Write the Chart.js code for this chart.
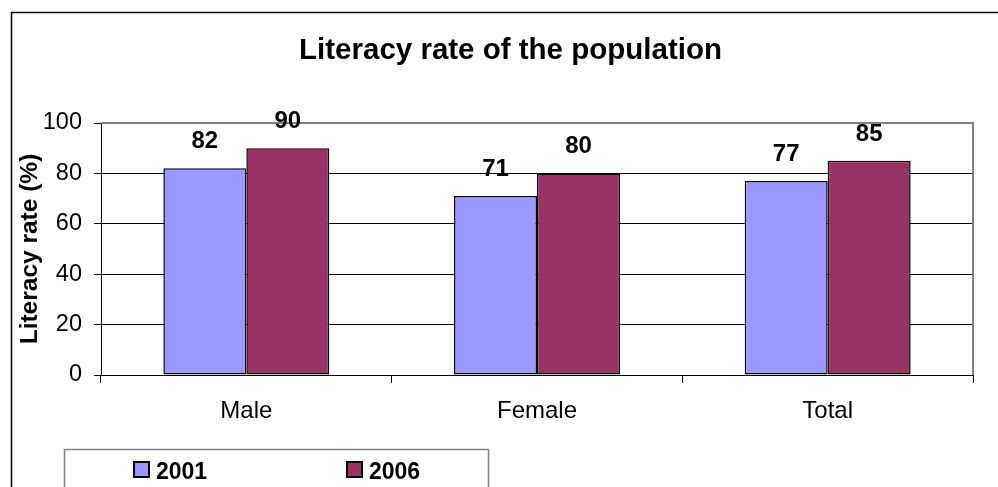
<!DOCTYPE html>
<html>
<head>
<meta charset="utf-8">
<script src="https://cdn.jsdelivr.net/npm/chart.js@4"></script>
<style>
html,body{margin:0;padding:0;background:#fff;}
#wrap{width:998px;height:487px;position:relative;}
</style>
</head>
<body>
<div id="wrap"><canvas id="c" width="998" height="487"></canvas></div>
<script>
const categories = ["Male", "Female", "Total"];
const seriesNames = ["2001", "2006"];
const values2001 = [82, 71, 77];
const values2006 = [90, 80, 85];
const yTicks = [0, 20, 40, 60, 80, 100];
const colors = ["#9999FF", "#993366"];

const FONT = "'Liberation Sans', Arial, sans-serif";

const framePlugin = {
  id: 'frame',
  afterDatasetsDraw(chart) {
    const ctx = chart.ctx, a = chart.chartArea;
    ctx.save();
    ctx.strokeStyle = '#808080';
    ctx.lineWidth = 2;
    ctx.beginPath();
    ctx.moveTo(a.left, a.top);
    ctx.lineTo(a.right, a.top);
    ctx.lineTo(a.right, a.bottom);
    ctx.stroke();
    ctx.fillStyle = '#000';
    ctx.font = "bold 24px " + FONT;
    ctx.textAlign = 'center';
    ctx.textBaseline = 'alphabetic';
    chart.data.datasets.forEach((ds, i) => {
      const meta = chart.getDatasetMeta(i);
      meta.data.forEach((bar, j) => {
        ctx.fillText(String(ds.data[j]), bar.x, bar.y - 20);
      });
    });
    ctx.restore();
  },
  afterDraw(chart) {
    const ctx = chart.ctx;
    ctx.save();
    ctx.strokeStyle = '#000';
    ctx.lineWidth = 1.5;
    ctx.beginPath();
    ctx.moveTo(11.5, 487);
    ctx.lineTo(11.5, 12.5);
    ctx.lineTo(998, 12.5);
    ctx.stroke();
    ctx.strokeStyle = '#808080';
    ctx.lineWidth = 1.5;
    ctx.beginPath();
    ctx.moveTo(64.5, 490);
    ctx.lineTo(64.5, 449.5);
    ctx.lineTo(488.5, 449.5);
    ctx.lineTo(488.5, 490);
    ctx.stroke();
    const xs = [134, 347];
    ctx.font = "bold 23px " + FONT;
    ctx.textAlign = 'left';
    ctx.textBaseline = 'alphabetic';
    chart.data.datasets.forEach((ds, i) => {
      ctx.fillStyle = ds.backgroundColor;
      ctx.fillRect(xs[i], 462, 15, 15);
      ctx.strokeStyle = '#000';
      ctx.lineWidth = 2;
      ctx.strokeRect(xs[i], 462, 15, 15);
      ctx.fillStyle = '#000';
      ctx.fillText(ds.label, xs[i] + 22, 479);
    });
    ctx.restore();
  }
};

new Chart(document.getElementById('c'), {
  type: 'bar',
  data: {
    labels: categories,
    datasets: [
      { label: seriesNames[0], data: values2001, backgroundColor: colors[0], borderColor: '#000', borderWidth: 1.5, borderSkipped: false },
      { label: seriesNames[1], data: values2006, backgroundColor: colors[1], borderColor: '#000', borderWidth: 1.5, borderSkipped: false }
    ]
  },
  options: {
    responsive: false,
    animation: false,
    devicePixelRatio: 1,
    layout: { padding: { left: 23, right: 0, top: 0, bottom: 0 } },
    datasets: { bar: { categoryPercentage: 0.571, barPercentage: 1.0 } },
    plugins: {
      legend: { display: false },
      tooltip: { enabled: false },
      title: {
        display: true,
        text: 'Literacy rate of the population',
        color: '#000',
        font: { family: FONT, size: 29.5, weight: 'bold', lineHeight: 1.2 },
        padding: { top: 33, bottom: 54.6 }
      }
    },
    scales: {
      x: {
        offset: true,
        grid: { display: true, drawOnChartArea: false, drawTicks: true, tickLength: 8, color: '#000', tickColor: '#000', offset: true },
        border: { display: true, color: '#000', width: 1 },
        ticks: { color: '#000', font: { family: FONT, size: 24, lineHeight: 1.2 }, padding: 14, maxRotation: 0 },
        afterFit(s) { s.height = 112; }
      },
      y: {
        min: 0, max: 100,
        afterBuildTicks(s) { s.ticks = yTicks.map(v => ({ value: v })); },
        grid: {
          color: (c) => (c.tick && c.tick.value === 100) ? 'rgba(0,0,0,0)' : '#000',
          lineWidth: 1,
          drawTicks: true, tickLength: 7, tickColor: '#000'
        },
        border: { display: true, color: '#000', width: 1 },
        ticks: { color: '#000', font: { family: FONT, size: 23.5, lineHeight: 1.2 }, padding: 12 },
        title: {
          display: true,
          text: 'Literacy rate (%)',
          color: '#000',
          font: { family: FONT, size: 24.5, weight: 'bold', lineHeight: 1.2 },
          padding: { top: -7.2, bottom: 0 }
        },
        afterFit(s) { s.width = 78; }
      },
      yRight: {
        position: 'right',
        display: true,
        min: 0, max: 100,
        grid: { display: false, drawTicks: false },
        border: { display: false },
        ticks: { display: false },
        afterFit(s) { s.width = 25; }
      }
    }
  },
  plugins: [framePlugin]
});
</script>
</body>
</html>
